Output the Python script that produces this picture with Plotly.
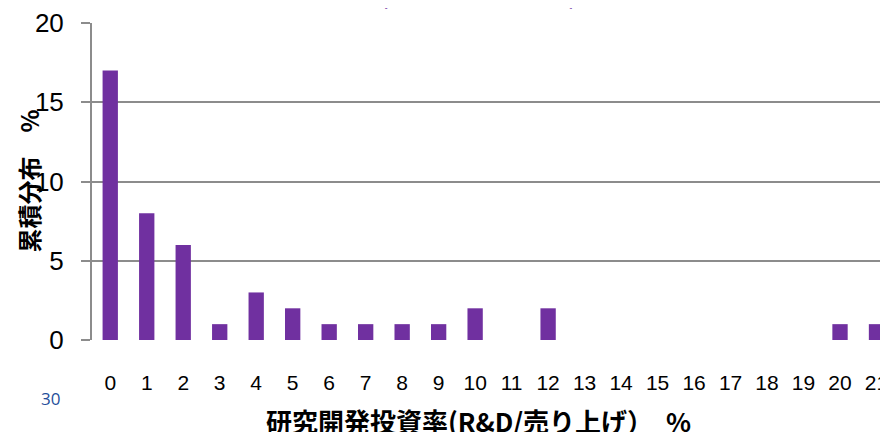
import plotly.graph_objects as go

categories = [str(i) for i in range(22)]
values = [17, 8, 6, 1, 3, 2, 1, 1, 1, 1, 2, 0, 2, 0, 0, 0, 0, 0, 0, 0, 1, 1]
y_ticks = [0, 5, 10, 15, 20]

x_title = "研究開発投資率(R&D/売り上げ）　%"
y_title = "累積分布　%"
top_title = "(研究開発投資率分布)"
page_no = "30"

fig = go.Figure()
fig.add_trace(go.Bar(
    x=list(range(22)), y=values,
    marker=dict(color="#7030A0", line=dict(width=0)),
    width=0.42,
))

fig.update_layout(
    width=880, height=424,
    margin=dict(l=84, r=0, t=12, b=92),
    paper_bgcolor="white", plot_bgcolor="white",
    showlegend=False,
    xaxis=dict(
        range=[-0.5, 21.315], tickmode="array", tickvals=list(range(22)), ticktext=categories,
        showgrid=False, showline=False, zeroline=False, ticks="",
        tickfont=dict(family="Liberation Sans", size=21, color="black"),
        ticklabelstandoff=28, ticklabeloverflow="allow",
    ),
    yaxis=dict(
        range=[0, 20.001], tickmode="array", tickvals=y_ticks,
        showgrid=True, gridcolor="#8C8C8C", gridwidth=2,
        showline=True, linecolor="#8C8C8C", linewidth=2,
        zeroline=False,
        ticks="outside", ticklen=9, tickcolor="#8C8C8C", tickwidth=2,
        tickfont=dict(family="Liberation Sans", size=26, color="black"),
        ticklabelstandoff=12, ticklabeloverflow="allow",
    ),
    annotations=[
        dict(text=x_title, xref="paper", yref="paper", x=0.486, y=0, yanchor="middle",
             yshift=-80, showarrow=False,
             font=dict(family="Noto Sans CJK JP", size=26, color="black", weight="bold")),
        dict(text=y_title, xref="paper", yref="paper", x=0, xanchor="center", xshift=-64,
             y=0.5, textangle=-90, showarrow=False,
             font=dict(family="Noto Sans CJK JP", size=24, color="black", weight="bold")),
        dict(text=page_no, xref="paper", yref="paper", x=0, xanchor="center", xshift=-42,
             y=0, yanchor="middle", yshift=-58, showarrow=False,
             font=dict(family="Open Sans", size=17, color="#1F4E9A")),
        dict(text=top_title, xref="paper", yref="paper", x=0.486, y=1, yanchor="bottom",
             yshift=10, showarrow=False,
             font=dict(family="Noto Sans CJK JP", size=20, color="#7030A0", weight="bold")),
    ],
)

fig.write_html("out.html")
